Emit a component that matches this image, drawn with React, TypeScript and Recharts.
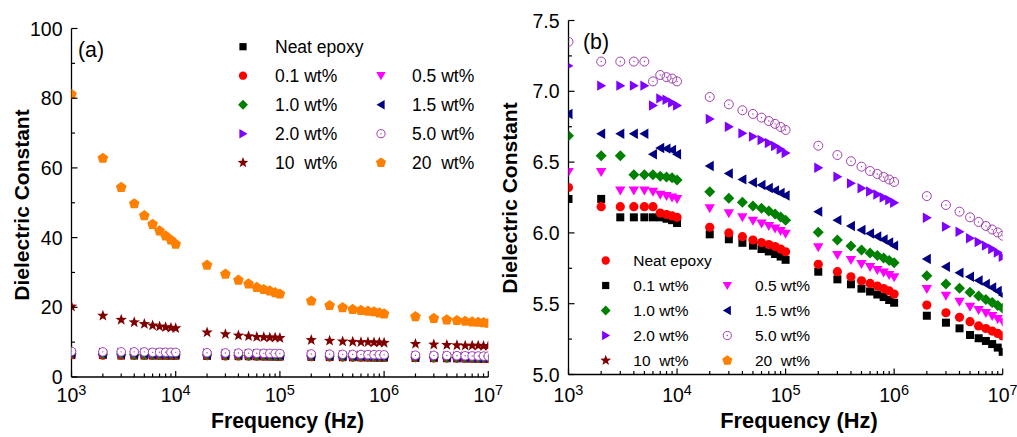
import React from 'react';
import { ScatterChart, Scatter, XAxis, YAxis } from 'recharts';

// measurement frequencies (Hz)
const freqs = [
  1e3, 2e3, 3e3, 4e3, 5e3, 6e3, 7e3, 8e3, 9e3, 1e4,
  2e4, 3e4, 4e4, 5e4, 6e4, 7e4, 8e4, 9e4, 1e5,
  2e5, 3e5, 4e5, 5e5, 6e5, 7e5, 8e5, 9e5, 1e6,
  2e6, 3e6, 4e6, 5e6, 6e6, 7e6, 8e6, 9e6, 1e7,
];

// dielectric constant, one array per loading (order follows freqs)
const neatEpoxy = [
  6.24, 6.24, 6.11, 6.11, 6.11, 6.11, 6.11, 6.10, 6.09, 6.07,
  5.99, 5.955, 5.93, 5.91, 5.886, 5.869, 5.851, 5.833, 5.81,
  5.726, 5.672, 5.637, 5.606, 5.586, 5.565, 5.547, 5.526, 5.507,
  5.415, 5.366, 5.326, 5.279, 5.256, 5.237, 5.215, 5.19, 5.16,
];
const wt01 = [
  6.32, 6.185, 6.185, 6.185, 6.185, 6.185, 6.14, 6.13, 6.12, 6.11,
  6.04, 6.0, 5.973, 5.95, 5.932, 5.918, 5.904, 5.886, 5.867,
  5.778, 5.726, 5.69, 5.662, 5.643, 5.625, 5.607, 5.59, 5.568,
  5.49, 5.436, 5.404, 5.373, 5.343, 5.325, 5.307, 5.29, 5.272,
];
const wt05 = [
  6.43, 6.43, 6.30, 6.30, 6.30, 6.29, 6.27, 6.26, 6.25, 6.24,
  6.174, 6.138, 6.11, 6.086, 6.066, 6.049, 6.031, 6.013, 5.994,
  5.898, 5.844, 5.809, 5.78, 5.759, 5.738, 5.72, 5.703, 5.686,
  5.604, 5.556, 5.514, 5.479, 5.455, 5.434, 5.413, 5.392, 5.373,
];
const wt10 = [
  6.686, 6.545, 6.545, 6.41, 6.41, 6.41, 6.40, 6.395, 6.39, 6.374,
  6.29, 6.244, 6.216, 6.19, 6.174, 6.155, 6.133, 6.112, 6.09,
  6.004, 5.95, 5.907, 5.88, 5.858, 5.84, 5.823, 5.805, 5.79,
  5.698, 5.639, 5.609, 5.58, 5.554, 5.53, 5.508, 5.487, 5.468,
];
const wt15 = [
  6.84, 6.70, 6.70, 6.70, 6.70, 6.555, 6.60, 6.595, 6.585, 6.555,
  6.472, 6.42, 6.378, 6.356, 6.338, 6.317, 6.30, 6.282, 6.264,
  6.15, 6.09, 6.049, 6.02, 5.996, 5.975, 5.953, 5.932, 5.91,
  5.816, 5.761, 5.719, 5.69, 5.664, 5.639, 5.614, 5.59, 5.561,
];
const wt20 = [
  7.18, 7.04, 7.04, 7.04, 7.04, 6.90, 6.95, 6.94, 6.92, 6.90,
  6.804, 6.75, 6.703, 6.68, 6.656, 6.635, 6.614, 6.59, 6.564,
  6.46, 6.397, 6.35, 6.315, 6.292, 6.271, 6.25, 6.232, 6.213,
  6.107, 6.044, 6.008, 5.962, 5.936, 5.91, 5.886, 5.862, 5.832,
];
const wt50 = [
  7.35, 7.21, 7.21, 7.21, 7.21, 7.07, 7.115, 7.10, 7.09, 7.07,
  6.96, 6.908, 6.866, 6.84, 6.814, 6.79, 6.77, 6.748, 6.727,
  6.616, 6.55, 6.506, 6.468, 6.437, 6.416, 6.395, 6.377, 6.36,
  6.26, 6.197, 6.15, 6.11, 6.077, 6.049, 6.024, 6.003, 5.98,
];
const wt100 = [
  20.2, 17.6, 16.4, 15.7, 15.2, 14.8, 14.5, 14.3, 14.1, 14.0,
  12.8, 12.3, 11.9, 11.7, 11.5, 11.4, 11.3, 11.3, 11.2,
  10.6, 10.4, 10.2, 10.1, 10.0, 10.0, 9.9, 9.9, 9.8,
  9.5, 9.3, 9.2, 9.1, 9.0, 9.0, 9.0, 8.9, 8.9,
];
const wt200 = [
  81.1, 62.75, 54.4, 49.7, 46.3, 43.8, 41.9, 40.5, 39.3, 38.1,
  32.1, 29.5, 27.8, 26.7, 25.7, 25.1, 24.7, 24.2, 23.8,
  21.8, 20.5, 19.9, 19.4, 19.1, 18.9, 18.7, 18.4, 18.1,
  17.3, 16.8, 16.4, 16.2, 16.0, 15.8, 15.7, 15.6, 15.4,
];

// axis ticks
const xMajor = [1e3, 1e4, 1e5, 1e6, 1e7];
const xExp = ['3', '4', '5', '6', '7'];
const xMinor = [
  2e3, 3e3, 4e3, 5e3, 6e3, 7e3, 8e3, 9e3,
  2e4, 3e4, 4e4, 5e4, 6e4, 7e4, 8e4, 9e4,
  2e5, 3e5, 4e5, 5e5, 6e5, 7e5, 8e5, 9e5,
  2e6, 3e6, 4e6, 5e6, 6e6, 7e6, 8e6, 9e6,
];
const topTicks = [1000, 2512, 6310, 15849, 39811, 100000, 251189, 630957, 1584893, 3981072, 10000000];
const yMajorA = [0, 20, 40, 60, 80, 100];
const yLabelA = ['0', '20', '40', '60', '80', '100'];
const yMinorA = [10, 30, 50, 70, 90];
const yMajorB = [5.0, 5.5, 6.0, 6.5, 7.0, 7.5];
const yLabelB = ['5.0', '5.5', '6.0', '6.5', '7.0', '7.5'];
const yMinorB = [5.25, 5.75, 6.25, 6.75, 7.25];

const FONT = '"Liberation Sans", Arial, sans-serif';

type Kind = 'square' | 'circle' | 'diamond' | 'down' | 'left' | 'right' | 'ring' | 'star' | 'pentagon';

const pts = (arr: number[][]) => arr.map(p => p.join(',')).join(' ');

const Marker = ({ kind, cx, cy, color, k = 1, fill }: { kind: Kind; cx: number; cy: number; color: string; k?: number; fill?: string }) => {
  if (cx == null || cy == null) return null;
  switch (kind) {
    case 'square':
      return <rect x={cx - 4 * k} y={cy - 4 * k} width={8 * k} height={8 * k} fill={color} />;
    case 'circle':
      return <circle cx={cx} cy={cy} r={4.6 * k} fill={color} />;
    case 'diamond':
      return <polygon points={pts([[cx, cy - 5.5 * k], [cx + 5.5 * k, cy], [cx, cy + 5.5 * k], [cx - 5.5 * k, cy]])} fill={color} />;
    case 'down':
      return <polygon points={pts([[cx - 5.2 * k, cy - 4 * k], [cx + 5.2 * k, cy - 4 * k], [cx, cy + 5 * k]])} fill={color} />;
    case 'left':
      return <polygon points={pts([[cx - 5 * k, cy], [cx + 4 * k, cy - 5.2 * k], [cx + 4 * k, cy + 5.2 * k]])} fill={color} />;
    case 'right':
      return <polygon points={pts([[cx + 5 * k, cy], [cx - 4 * k, cy - 5.2 * k], [cx - 4 * k, cy + 5.2 * k]])} fill={color} />;
    case 'ring':
      return (
        <g>
          <circle cx={cx} cy={cy} r={4.5 * k} fill={fill || 'none'} stroke={color} strokeWidth={1} />
          <circle cx={cx} cy={cy} r={0.7} fill={color} />
        </g>
      );
    case 'star': {
      const p: number[][] = [];
      for (let i = 0; i < 10; i++) {
        const r = (i % 2 === 0 ? 6.3 : 2.6) * k;
        const a = -Math.PI / 2 + (i * Math.PI) / 5;
        p.push([cx + r * Math.cos(a), cy + r * Math.sin(a)]);
      }
      return <polygon points={pts(p)} fill={color} />;
    }
    case 'pentagon': {
      const p: number[][] = [];
      for (let i = 0; i < 5; i++) {
        const a = -Math.PI / 2 + (i * 2 * Math.PI) / 5;
        p.push([cx + 5.9 * k * Math.cos(a), cy + 5.9 * k * Math.sin(a)]);
      }
      return <polygon points={pts(p)} fill={color} />;
    }
  }
  return null;
};

const styles: Record<string, { kind: Kind; color: string }> = {
  neat: { kind: 'square', color: '#000000' },
  wt01: { kind: 'circle', color: '#ff0000' },
  wt05: { kind: 'down', color: '#ff00ff' },
  wt10: { kind: 'diamond', color: '#008000' },
  wt15: { kind: 'left', color: '#000080' },
  wt20: { kind: 'right', color: '#8000ff' },
  wt50: { kind: 'ring', color: '#a040b0' },
  wt100: { kind: 'star', color: '#800000' },
  wt200: { kind: 'pentagon', color: '#ff8000' },
};

const values: Record<string, number[]> = { neat: neatEpoxy, wt01, wt05, wt10, wt15, wt20, wt50, wt100, wt200 };

const toRows = (arr: number[]) => freqs.map((f, i) => ({ f, v: arr[i] }));

// ---- ticks drawn inward ----
const XTick = (labelOffset: number) => (p: any) => {
  const v = p.payload.value;
  const idx = xMajor.indexOf(v);
  return (
    <g>
      <line x1={p.x} x2={p.x} y1={p.y} y2={p.y - (idx >= 0 ? 6 : 3.5)} stroke="#000" strokeWidth={1.2} />
      {idx >= 0 && (
        <text x={p.x} y={p.y + labelOffset} textAnchor="middle" fontSize={19.5} fontFamily={FONT} fill="#000">
          10<tspan dy={-6.5} fontSize={14.5}>{xExp[idx]}</tspan>
        </text>
      )}
    </g>
  );
};

const TopTick = (p: any) => <line x1={p.x} x2={p.x} y1={p.y} y2={p.y + 4} stroke="#000" strokeWidth={1.2} />;

const YTick = (majors: number[], labels: string[]) => (p: any) => {
  const v = p.payload.value;
  const idx = majors.findIndex(m => Math.abs(m - v) < 1e-9);
  return (
    <g>
      <line x1={p.x} x2={p.x + (idx >= 0 ? 6 : 3.5)} y1={p.y} y2={p.y} stroke="#000" strokeWidth={1.2} />
      {idx >= 0 && (
        <text x={p.x - 9} y={p.y} dy="0.36em" textAnchor="end" fontSize={19.5} fontFamily={FONT} fill="#000">
          {labels[idx]}
        </text>
      )}
    </g>
  );
};

const RightTick = (p: any) => <line x1={p.x} x2={p.x - 4} y1={p.y} y2={p.y} stroke="#000" strokeWidth={1.2} />;

const axisLine = { stroke: '#000', strokeWidth: 1.3 };

type PanelProps = {
  width: number;
  margin: { top: number; right: number; bottom: number; left: number };
  yAxisWidth: number;
  xAxisHeight: number;
  yDomain: [number, number];
  yMajor: number[];
  yMinor: number[];
  yLabels: string[];
  series: string[];
  k: number;
  ringFill?: string;
  xLabelOffset: number;
};

const Panel: React.FC<PanelProps> = ({ width, margin, yAxisWidth, xAxisHeight, yDomain, yMajor, yMinor, yLabels, series, k, ringFill, xLabelOffset }) => {
  const yAll = [...yMajor, ...yMinor].sort((a, b) => a - b);
  return (
    <ScatterChart width={width} height={437} margin={margin}>
      <XAxis
        dataKey="f"
        type="number"
        scale="log"
        domain={[1e3, 1e7]}
        allowDataOverflow
        ticks={[...xMajor, ...xMinor].sort((a, b) => a - b)}
        interval={0}
        height={xAxisHeight}
        tickSize={0}
        tickMargin={0}
        tickLine={false}
        axisLine={axisLine}
        tick={XTick(xLabelOffset)}
      />
      <XAxis
        xAxisId="top"
        orientation="top"
        type="number"
        scale="log"
        domain={[1e3, 1e7]}
        allowDataOverflow
        ticks={topTicks}
        interval={0}
        height={0}
        tickSize={0}
        tickMargin={0}
        tickLine={false}
        axisLine={axisLine}
        tick={TopTick}
      />
      <YAxis
        dataKey="v"
        type="number"
        domain={yDomain}
        allowDataOverflow
        ticks={yAll}
        interval={0}
        width={yAxisWidth}
        tickSize={0}
        tickMargin={0}
        tickLine={false}
        axisLine={axisLine}
        tick={YTick(yMajor, yLabels)}
      />
      <YAxis
        yAxisId="right"
        orientation="right"
        type="number"
        domain={yDomain}
        allowDataOverflow
        ticks={yAll}
        interval={0}
        width={0}
        tickSize={0}
        tickMargin={0}
        tickLine={false}
        axisLine={axisLine}
        tick={RightTick}
      />
      {series.map(key => (
        <Scatter
          key={key}
          data={toRows(values[key])}
          isAnimationActive={false}
          shape={(p: any) => (
            <Marker kind={styles[key].kind} color={styles[key].color} cx={p.cx} cy={p.cy} k={k} fill={ringFill} />
          )}
        />
      ))}
    </ScatterChart>
  );
};

// legend rows: [left key, left label, right key, right label]
const legendA: [string, string, string | null, string | null][] = [
  ['neat', 'Neat epoxy', null, null],
  ['wt01', '0.1 wt%', 'wt05', '0.5 wt%'],
  ['wt10', '1.0 wt%', 'wt15', '1.5 wt%'],
  ['wt20', '2.0 wt%', 'wt50', '5.0 wt%'],
  ['wt100', '10  wt%', 'wt200', '20  wt%'],
];
const legendB: [string, string, string | null, string | null][] = [
  ['wt01', 'Neat epoxy', null, null],
  ['neat', '0.1 wt%', 'wt05', '0.5 wt%'],
  ['wt10', '1.0 wt%', 'wt15', '1.5 wt%'],
  ['wt20', '2.0 wt%', 'wt50', '5.0 wt%'],
  ['wt100', '10  wt%', 'wt200', '20  wt%'],
];

const LegendBlock = ({ rows, y0, dy, mx1, tx1, mx2, tx2, fontSize, k }: any) => (
  <g>
    {rows.map((r: any, i: number) => {
      const y = y0 + i * dy;
      return (
        <g key={i}>
          <Marker kind={styles[r[0]].kind} color={styles[r[0]].color} cx={mx1} cy={y} k={k} />
          <text x={tx1} y={y} dy="0.36em" fontSize={fontSize} fontFamily={FONT} style={{ whiteSpace: 'pre' }}>{r[1]}</text>
          {r[2] && <Marker kind={styles[r[2]].kind} color={styles[r[2]].color} cx={mx2} cy={y} k={k} />}
          {r[3] && <text x={tx2} y={y} dy="0.36em" fontSize={fontSize} fontFamily={FONT} style={{ whiteSpace: 'pre' }}>{r[3]}</text>}
        </g>
      );
    })}
  </g>
);

const App = () => {
  return (
    <div style={{ position: 'absolute', left: 0, top: 0, width: 1017, height: 437, background: '#fff', fontFamily: FONT }}>
      <div style={{ position: 'absolute', left: 0, top: 0 }}>
        <Panel
          width={515}
          margin={{ top: 28.5, right: 26.7, bottom: 0, left: 0 }}
          yAxisWidth={71.5}
          xAxisHeight={60}
          yDomain={[0, 100]}
          yMajor={yMajorA}
          yMinor={yMinorA}
          yLabels={yLabelA}
          series={['neat', 'wt01', 'wt05', 'wt10', 'wt15', 'wt20', 'wt50', 'wt100', 'wt200']}
          k={0.95}
          ringFill="#ffffff"
          xLabelOffset={24.7}
        />
      </div>
      <div style={{ position: 'absolute', left: 500, top: 0 }}>
        <Panel
          width={517}
          margin={{ top: 20.5, right: 14.3, bottom: 0, left: 0 }}
          yAxisWidth={68.5}
          xAxisHeight={62.5}
          yDomain={[5, 7.5]}
          yMajor={yMajorB}
          yMinor={yMinorB}
          yLabels={yLabelB}
          series={['neat', 'wt01', 'wt05', 'wt10', 'wt15', 'wt20', 'wt50']}
          k={1}
          xLabelOffset={27.3}
        />
      </div>
      <svg width={1017} height={437} style={{ position: 'absolute', left: 0, top: 0, pointerEvents: 'none' }}>
        <text x={78} y={57.2} fontSize={21.3} fontFamily={FONT}>(a)</text>
        <text x={583} y={48.8} fontSize={21.3} fontFamily={FONT}>(b)</text>
        <text x={28.5} y={205} fontSize={21} fontWeight="bold" fontFamily={FONT} textAnchor="middle" transform="rotate(-90 28.5 205)">
          Dielectric Constant
        </text>
        <text x={517} y={198} fontSize={21} fontWeight="bold" fontFamily={FONT} textAnchor="middle" transform="rotate(-90 517 198)">
          Dielectric Constant
        </text>
        <text x={287.5} y={428} fontSize={21.2} fontWeight="bold" fontFamily={FONT} textAnchor="middle">Frequency (Hz)</text>
        <text x={799} y={428} fontSize={21.8} fontWeight="bold" fontFamily={FONT} textAnchor="middle">Frequency (Hz)</text>
        <LegendBlock rows={legendA} y0={46.7} dy={29} mx1={243} tx1={275} mx2={381} tx2={412} fontSize={17.5} k={0.9} />
        <LegendBlock rows={legendB} y0={260.5} dy={25} mx1={605.7} tx1={633.3} mx2={727.3} tx2={755} fontSize={15.5} k={0.9} />
      </svg>
    </div>
  );
};

export default App;
